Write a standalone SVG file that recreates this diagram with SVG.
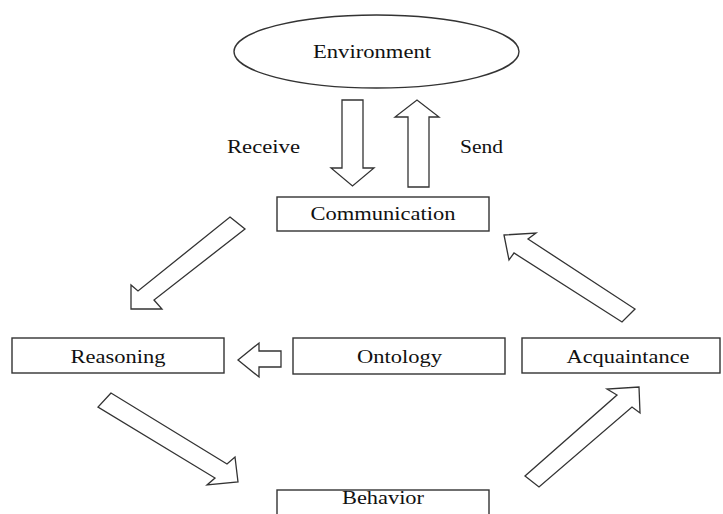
<svg xmlns="http://www.w3.org/2000/svg" width="723" height="514" viewBox="0 0 723 514">
<style>
.s{fill:#fff;stroke:#333;stroke-width:1.4}
.a{fill:#fff;stroke:#333;stroke-width:1.3;stroke-linejoin:miter}
.t{font-family:'Liberation Serif',serif;font-size:18px;fill:#111;text-anchor:middle}
</style>
<rect width="723" height="514" fill="#fff"/>
<g id="environment">
<ellipse class="s" cx="376.5" cy="51.5" rx="142.5" ry="36.5"/>
<text class="t" x="372" y="58" textLength="118" lengthAdjust="spacingAndGlyphs">Environment</text>
</g>
<g id="communication">
<rect class="s" x="277" y="197" width="212" height="34"/>
<text class="t" x="383" y="220" textLength="145" lengthAdjust="spacingAndGlyphs">Communication</text>
</g>
<g id="reasoning">
<rect class="s" x="12" y="338" width="212" height="35"/>
<text class="t" x="118" y="362.5" textLength="95" lengthAdjust="spacingAndGlyphs">Reasoning</text>
</g>
<g id="ontology">
<rect class="s" x="293" y="338" width="212" height="36"/>
<text class="t" x="399.5" y="362.5" textLength="85" lengthAdjust="spacingAndGlyphs">Ontology</text>
</g>
<g id="acquaintance">
<rect class="s" x="522" y="338" width="198" height="35"/>
<text class="t" x="628" y="362.5" textLength="123" lengthAdjust="spacingAndGlyphs">Acquaintance</text>
</g>
<g id="behavior">
<rect class="s" x="277" y="490" width="212" height="40"/>
<text class="t" x="383" y="504" textLength="82" lengthAdjust="spacingAndGlyphs">Behavior</text>
</g>
<g id="connectors">
<polygon class="a" points="342,100 363,100 363,168 374,168 352.5,186 331,168 342,168"/>
<polygon class="a" points="408,187 429,187 429,117 439,117 417,100 395,117 408,117"/>
<polygon class="a" points="230,217 245,229 154,300 162,309 131,309 131,285 138,291"/>
<polygon class="a" points="259,343 259,351 281,351 281,367 259,367 259,377 238,360"/>
<polygon class="a" points="504,235 536,233 528,239 635,309 622,322 514,253 509,260"/>
<polygon class="a" points="111,393 98,407 215,478 207,485 238,482 235,457 227,464"/>
<polygon class="a" points="525,476 539,487 632,407 640,413 639,387 607,389 617,395"/>
<text class="t" x="263.5" y="153" textLength="73" lengthAdjust="spacingAndGlyphs">Receive</text>
<text class="t" x="481.5" y="153" textLength="43" lengthAdjust="spacingAndGlyphs">Send</text>
</g>
</svg>
